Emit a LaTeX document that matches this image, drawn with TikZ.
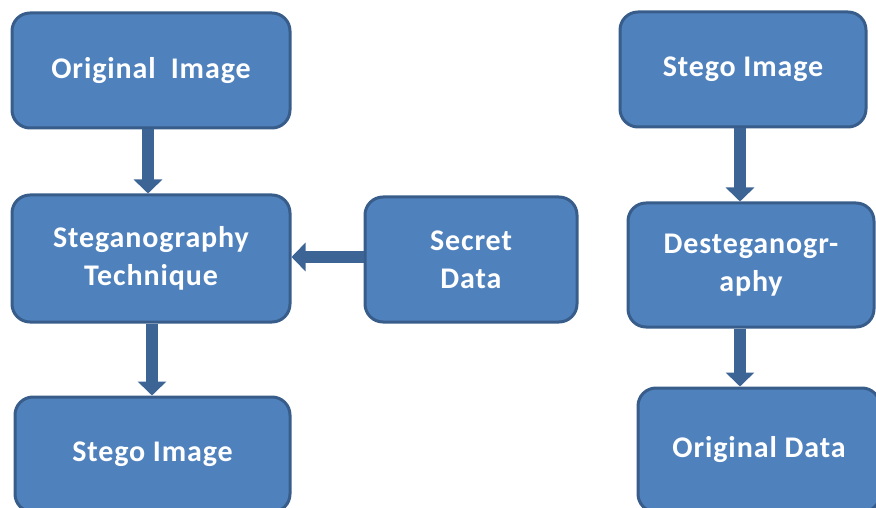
\documentclass[tikz,border=0pt]{standalone}
\usepackage{fontspec}
\setmainfont{Carlito}[LetterSpace=3]
\usetikzlibrary{arrows.meta}
\definecolor{boxfill}{HTML}{4F81BD}
\definecolor{boxline}{HTML}{385D8A}
\definecolor{arrcol}{HTML}{3C6595}
\tikzset{
  blockbox/.style={draw=boxline, line width=3pt, fill=boxfill, rounded corners=18pt,
    text=white, font=\bfseries\fontsize{30}{38}\selectfont, align=center,
    inner sep=0pt},
  arr/.style={draw=arrcol, line width=12.5pt, -{Triangle[width=28pt,length=14pt]}}
}
\begin{document}
\begin{tikzpicture}[x=1pt,y=-1pt]
\useasboundingbox (0,0) rectangle (876,508);
\node[blockbox, minimum width=278pt, minimum height=115pt] (oi) at (151,70.5) {Original\enspace Image};
\node[blockbox, minimum width=278pt, minimum height=127pt] (st) at (151,258.5) {Steganography\\Technique};
\node[blockbox, minimum width=275pt, minimum height=115pt] (si) at (152.5,454.5) {Stego Image};
\node[blockbox, minimum width=212pt, minimum height=125pt] (sd) at (471,259.5) {Secret\\Data};
\node[blockbox, minimum width=246pt, minimum height=115pt] (si2) at (743,69.5) {Stego Image};
\node[blockbox, minimum width=246pt, minimum height=124pt] (ds) at (751,265) {Desteganogr-\\aphy};
\node[blockbox, minimum width=242pt, minimum height=124pt] (od) at (759,450) {Original Data};
% connectors
\coordinate (a1) at ([xshift=-3pt]oi.south);
\draw[arr] (a1) -- (a1 |- st.north);
\coordinate (a2) at ([xshift=1pt]st.south);
\draw[arr] (a2) -- (a2 |- si.north);
\coordinate (a3) at ([yshift=2.5pt]sd.west);
\draw[arr] (a3) -- (a3 -| st.east);
\coordinate (a4) at ([xshift=-3pt]si2.south);
\draw[arr] (a4) -- (a4 |- ds.north);
\coordinate (a5) at ([xshift=-11pt]ds.south);
\draw[arr] (a5) -- (a5 |- od.north);
\end{tikzpicture}
\end{document}
